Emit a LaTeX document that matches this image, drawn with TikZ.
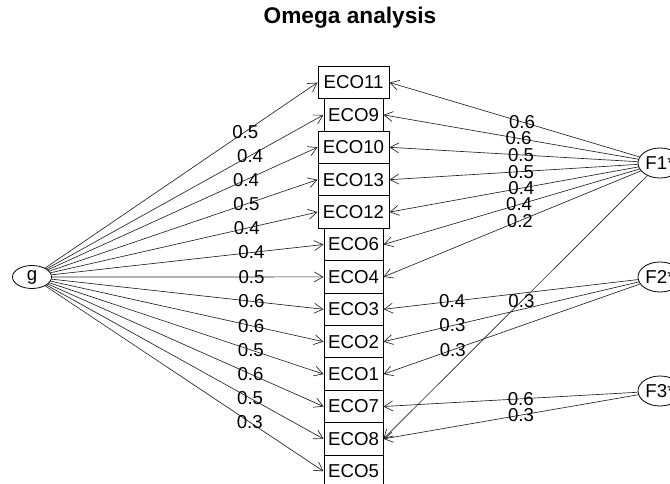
\documentclass[tikz,border=0pt]{standalone}
\usepackage{fontspec}
\setmainfont{Liberation Sans}
\usetikzlibrary{arrows.meta,shapes.geometric}

\begin{document}
\begin{tikzpicture}[x=0.75pt,y=0.75pt,yscale=-1,xscale=1,
  obs/.style={draw,line width=0.75pt,minimum height=24.3pt,inner sep=0pt,font=\fontsize{14}{14}\selectfont},
  wide/.style={obs,minimum width=53.25pt},
  narrow/.style={obs,minimum width=44.25pt},
  lat/.style={draw,ellipse,line width=0.6pt,inner sep=0pt,font=\fontsize{14}{14}\selectfont},
  ld/.style={draw=black!85,line width=0.5pt,-{Straight Barb[length=6.5pt,width=7.5pt]}},
  coef/.style={inner sep=0pt,font=\fontsize{14}{14}\selectfont}]
\useasboundingbox (0,0) rectangle (670,484);

% Title
\node (title) at (350,18) {\bfseries\fontsize{17}{17}\selectfont Omega analysis};

% Observed variables
\node [wide] (eco11) at (353.5,82.5) {ECO11};
\node [narrow] (eco9) at (353.5,114.9) {ECO9};
\node [wide] (eco10) at (353.5,147.3) {ECO10};
\node [wide] (eco13) at (353.5,179.7) {ECO13};
\node [wide] (eco12) at (353.5,212.1) {ECO12};
\node [narrow] (eco6) at (353.5,244.5) {ECO6};
\node [narrow] (eco4) at (353.5,276.9) {ECO4};
\node [narrow] (eco3) at (353.5,309.3) {ECO3};
\node [narrow] (eco2) at (353.5,341.7) {ECO2};
\node [narrow] (eco1) at (353.5,374.1) {ECO1};
\node [narrow] (eco7) at (353.5,406.5) {ECO7};
\node [narrow] (eco8) at (353.5,438.9) {ECO8};
\node [narrow] (eco5) at (353.5,471.3) {ECO5};

% Factors
\node [lat,minimum width=29.25pt,minimum height=17.25pt] (g) at (32,277) {g};
\node [lat,minimum width=33pt,minimum height=22.5pt] (F1) at (660,163) {F1*};
\node [lat,minimum width=33pt,minimum height=22.5pt] (F2) at (660,277) {F2*};
\node [lat,minimum width=33pt,minimum height=22.5pt] (F3) at (660,391) {F3*};

% g loadings
\draw [ld] (g) -- node [coef,pos=0.735] {0.5} (eco11.west);
\draw [ld] (g) -- node [coef,pos=0.735] {0.4} (eco9.west);
\draw [ld] (g) -- node [coef,pos=0.735] {0.4} (eco10.west);
\draw [ld] (g) -- node [coef,pos=0.735] {0.5} (eco13.west);
\draw [ld] (g) -- node [coef,pos=0.735] {0.4} (eco12.west);
\draw [ld] (g) -- node [coef,pos=0.735] {0.4} (eco6.west);
\draw [ld] (g) -- node [coef,pos=0.735] {0.5} (eco4.west);
\draw [ld] (g) -- node [coef,pos=0.735] {0.6} (eco3.west);
\draw [ld] (g) -- node [coef,pos=0.735] {0.6} (eco2.west);
\draw [ld] (g) -- node [coef,pos=0.735] {0.5} (eco1.west);
\draw [ld] (g) -- node [coef,pos=0.735] {0.6} (eco7.west);
\draw [ld] (g) -- node [coef,pos=0.735] {0.5} (eco8.west);
\draw [ld] (g) -- node [coef,pos=0.735] {0.3} (eco5.west);

% F1 loadings
\draw [ld] (F1) -- node [coef,pos=0.47] {0.6} (eco11.east);
\draw [ld] (F1) -- node [coef,pos=0.47] {0.6} (eco9.east);
\draw [ld] (F1) -- node [coef,pos=0.47] {0.5} (eco10.east);
\draw [ld] (F1) -- node [coef,pos=0.47] {0.5} (eco13.east);
\draw [ld] (F1) -- node [coef,pos=0.47] {0.4} (eco12.east);
\draw [ld] (F1) -- node [coef,pos=0.47] {0.4} (eco6.east);
\draw [ld] (F1) -- node [coef,pos=0.47] {0.2} (eco4.east);
\draw [ld] (F1) -- node [coef,pos=0.477] {0.3} (eco8.east);

% F2 loadings
\draw [ld] (F2) -- node [coef,pos=0.73] {0.4} (eco3.east);
\draw [ld] (F2) -- node [coef,pos=0.73] {0.3} (eco2.east);
\draw [ld] (F2) -- node [coef,pos=0.73] {0.3} (eco1.east);

% F3 loadings
\draw [ld] (F3) -- node [coef,pos=0.46] {0.6} (eco7.east);
\draw [ld] (F3) -- node [coef,pos=0.46] {0.3} (eco8.east);

\end{tikzpicture}
\end{document}
